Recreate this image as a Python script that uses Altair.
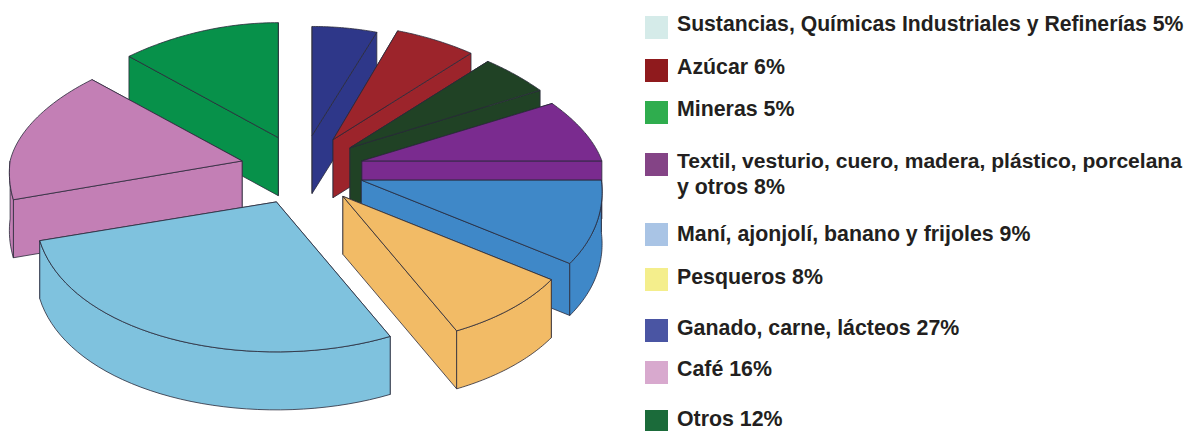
import math
import altair as alt
import pandas as pd

# --- chart values
SHARES = [5, 6, 5, 8, 9, 8, 27, 16, 12]
SLICE_COLORS = ["#2e3789", "#9c242b", "#204225", "#7a2b8f", "#3f88c8",
                "#f2bb66", "#7fc2de", "#c37fb5", "#07914a"]
LEGEND_LINES = [
    "Sustancias, Químicas Industriales y Refinerías 5%",
    "Azúcar 6%",
    "Mineras 5%",
    "Textil, vesturio, cuero, madera, plástico, porcelana",
    "y otros 8%",
    "Maní, ajonjolí, banano y frijoles 9%",
    "Pesqueros 8%",
    "Ganado, carne, lácteos 27%",
    "Café 16%",
    "Otros 12%",
]
LEGEND_COLORS = ["#d5ebe9", "#8f1a1d", "#2fad4e", "#844486", "#a9c4e5",
                 "#f4ee8c", "#4a55a3", "#d8a9ce", "#1b6b3a"]

# --- layout constants (pie geometry and legend placement, not data)
W, H = 1176, 423
CX, CY = 294, 162
RX, RY_BACK, RY_FRONT = 240, 115, 150
P_BACK, P_FRONT = 0.17, 0.08
RX_PINK, P_PINK = 232, 0.12
RY_NAVY = 109
EX, EY = 62, 35
DEPTH = 58
DEPTH_BLUE = 52
DRAW_ORDER = [8, 0, 1, 2, 3, 7, 4, 5, 6]
SWATCH_X0, SWATCH_X1, TEXT_X = 637, 660, 669
SWATCH_TOPS = [8, 51, 93, 145, 215, 260, 311, 353, 402]
TEXT_BASE = [23, 66, 108, 160, 186, 233, 276, 327, 368, 418]
TEXT_SIZES = [21.2, 21.35, 21.35, 21.05, 21.35, 21.35, 21.35, 21.35, 21.35, 21.35]


def rim(t, i):
    c = math.cos(t)
    rx = RX_PINK if i == 7 else RX
    p = (P_PINK if i == 7 else P_BACK) if c > 0 else P_FRONT
    ry = (RY_NAVY if i == 0 else RY_BACK) if c > 0 else RY_FRONT
    return rx * math.sin(t) * (1 - p * c), -ry * c


rows = []


def poly(name, col, pts):
    pts = list(pts) + [pts[0]]
    for k, (x, y) in enumerate(pts):
        rows.append({"poly": name, "k": k, "x": x, "y": y, "col": col})


total = sum(SHARES)
edges = [0.0]
for s in SHARES:
    edges.append(edges[-1] + s / total * 2 * math.pi)

for i in DRAW_ORDER:
    t0, t1 = edges[i], edges[i + 1]
    mid = (t0 + t1) / 2
    ax = CX + EX * math.sin(mid)
    ay = CY - EY * math.cos(mid)
    col = SLICE_COLORS[i]
    d = DEPTH_BLUE if i == 4 else DEPTH
    n = 40
    arc = []
    for j in range(n + 1):
        t = t0 + (t1 - t0) * j / n
        dx, dy = rim(t, i)
        arc.append((t, ax + dx, ay + dy))
    p0 = arc[0][1:]
    p1 = arc[-1][1:]
    # radial cut faces, the one further back first
    faces = [(p1, "b"), (p0, "a")] if p0[1] > p1[1] else [(p0, "a"), (p1, "b")]
    for p, tag in faces:
        poly(f"{i}{tag}", col, [(ax, ay), p, (p[0], p[1] + d), (ax, ay + d)])
    # outer wall, only where it faces the viewer
    front = [(x, y) for t, x, y in arc if math.pi / 2 <= t <= 3 * math.pi / 2]
    if len(front) > 1:
        poly(f"{i}w", col, front + [(x, y + d) for x, y in reversed(front)])
    # top face
    poly(f"{i}t", col, [(ax, ay)] + [(x, y) for _, x, y in arc])

pie_df = pd.DataFrame(rows)

pie = alt.Chart(pie_df).mark_line(strokeWidth=0.8, strokeJoin="round", clip=False).encode(
    x=alt.X("x:Q", scale=alt.Scale(domain=[0, W], range=[0, W]), axis=None),
    y=alt.Y("y:Q", scale=alt.Scale(domain=[0, H], range=[0, H]), axis=None),
    detail="poly:N",
    order=alt.Order("k:Q"),
    fill=alt.Fill("col:N", scale=None),
    stroke=alt.value("#2a2a3a"),
)

sw_df = pd.DataFrame({
    "col": LEGEND_COLORS,
    "y0": SWATCH_TOPS,
    "y1": [v + 23 for v in SWATCH_TOPS],
})
swatches = alt.Chart(sw_df).mark_rect().encode(
    x=alt.value(SWATCH_X0), x2=alt.value(SWATCH_X1),
    y=alt.Y("y0:Q", scale=None), y2="y1:Q",
    fill=alt.Fill("col:N", scale=None),
)

tx_df = pd.DataFrame({"label": LEGEND_LINES, "y": TEXT_BASE, "s": TEXT_SIZES})
texts = alt.Chart(tx_df).mark_text(
    align="left", baseline="alphabetic", font="Liberation Sans",
    fontWeight="bold", color="#231f20",
).encode(
    x=alt.value(TEXT_X),
    y=alt.Y("y:Q", scale=None),
    size=alt.Size("s:Q", scale=None),
    text="label:N",
)

chart = alt.layer(pie, swatches, texts).resolve_scale(y="independent", x="independent").properties(
    width=W, height=H, padding=0, autosize=alt.AutoSizeParams(type="none"),
).configure_view(stroke=None)

chart.save("out.html", embed_options={"renderer": "svg", "actions": False})
